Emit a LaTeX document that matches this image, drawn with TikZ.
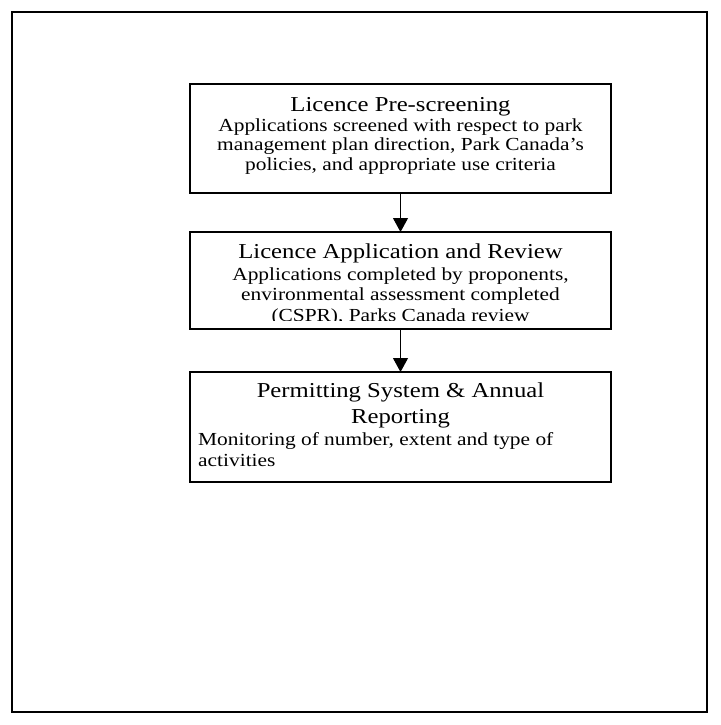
\documentclass[tikz,border=0pt]{standalone}
\usepackage{fontspec}
\setmainfont{Liberation Serif}
\usetikzlibrary{arrows.meta,calc}
\newcommand{\vsquash}[1]{\scalebox{1}[0.86]{#1}}
\begin{document}
\begin{tikzpicture}[x=1pt,y=-1pt,
  stagebox/.style={draw=black,line width=1.1pt,inner sep=0pt,outer sep=0pt,minimum width=421pt},
  frameline/.style={draw=black,line width=1.2pt},
  titletext/.style={font=\fontsize{24.7}{30}\selectfont,anchor=base,inner sep=0pt},
  bodytext/.style={font=\fontsize{21.4}{24.4}\selectfont,anchor=base,inner sep=0pt},
  bodyleft/.style={font=\fontsize{21.4}{24.4}\selectfont,anchor=base west,inner sep=0pt},
  flow/.style={line width=1.1pt,-{Triangle[length=14pt,width=15pt]}}]
\useasboundingbox (0,0) rectangle (720,725);
\draw[frameline] (12,12) rectangle (707,712);
% boxes
\node[stagebox,minimum height=109pt] (b1) at (400.5,138.5) {};
\node[stagebox,minimum height=97pt] (b2) at (400.5,280.5) {};
\node[stagebox,minimum height=110pt] (b3) at (400.5,427) {};
% box 1 text
\node[titletext] (t1) at (400.5,111) {\vsquash{Licence Pre-screening}};
\node[bodytext] (t1a) at (400.5,131) {\vsquash{Applications screened with respect to park}};
\node[bodytext] (t1b) at (400.5,150.5) {\vsquash{management plan direction, Park Canada’s}};
\node[bodytext] (t1c) at (400.5,170) {\vsquash{policies, and appropriate use criteria}};
% box 2 text (last line clipped by the text box)
\node[titletext] (t2) at (400.5,258.5) {\vsquash{Licence Application and Review}};
\begin{scope}
\clip (b2.north west) rectangle ($(b2.south east)+(0,-8.5)$);
\node[bodytext] (t2a) at (400.5,280.5) {\vsquash{Applications completed by proponents,}};
\node[bodytext] (t2b) at (400.5,300.7) {\vsquash{environmental assessment completed}};
\node[bodytext] (t2c) at (400.5,321) {\vsquash{(CSPR), Parks Canada review}};
\end{scope}
% box 3 text
\node[titletext] (t3) at (400.5,397.5) {\vsquash{Permitting System \& Annual}};
\node[titletext] (t3b) at (400.5,423) {\vsquash{Reporting}};
\node[bodyleft] (t3c) at (198,445.5) {\vsquash{Monitoring of number, extent and type of}};
\node[bodyleft] (t3d) at (198,466.5) {\vsquash{activities}};
% connectors
\draw[flow] (b1.south) -- (b2.north);
\draw[flow] (b2.south) -- (b3.north);
\end{tikzpicture}
\end{document}
